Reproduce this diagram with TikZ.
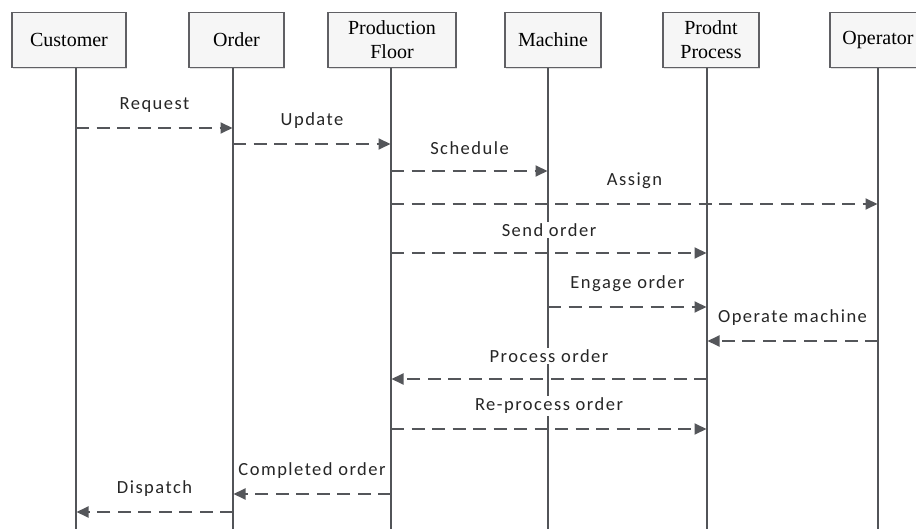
\documentclass[tikz,border=0pt]{standalone}
\usepackage{fontspec}
\setmainfont{Liberation Serif}
\newfontfamily\msgfont[LetterSpace=8]{Carlito}
\usetikzlibrary{arrows.meta,shadows}
\definecolor{lifec}{RGB}{82,84,88}
\definecolor{msgc}{RGB}{84,86,90}
\definecolor{boxc}{RGB}{96,96,100}
\definecolor{boxfill}{RGB}{246,246,246}
\begin{document}
\begin{tikzpicture}[x=1pt,y=-1pt,
  hbox/.style={draw=boxc, line width=1.1pt, fill=boxfill, minimum height=55pt,
    align=center, font=\fontsize{20}{24}\selectfont, inner sep=2pt,
    drop shadow={opacity=0.25, shadow xshift=1.2pt, shadow yshift=-1.2pt}},
  life/.style={draw=lifec, line width=2.5pt},
  msg/.style={draw=msgc, line width=1.9pt, dash pattern=on 13pt off 7.5pt,
    -{Triangle[length=12pt,width=11pt]}, shorten >=0.5pt},
  lbl/.style={fill=white, inner sep=2pt, font=\msgfont\fontsize{18.5}{21}\selectfont,
    text=black!85, midway, yshift=23pt}]
\useasboundingbox (0,0) rectangle (916,529);
\clip (0,0) rectangle (916,529);
% lifeline bottom ends
\coordinate (lc) at (76,529);
\coordinate (lo) at (233,529);
\coordinate (lpf) at (391,529);
\coordinate (lm) at (548,529);
\coordinate (lpp) at (707,529);
\coordinate (lop) at (878,529);
% header boxes
\node[hbox, minimum width=114pt] (cust) at (69,40) {Customer};
\node[hbox, minimum width=95pt] (ord) at (236.5,40) {Order};
\node[hbox, minimum width=128pt] (pf) at (392,40) {Production\\Floor};
\node[hbox, minimum width=96pt] (mach) at (553,40) {Machine};
\node[hbox, minimum width=96pt] (pp) at (711,40) {Prodnt\\Process};
\node[hbox, minimum width=96pt] (oper) at (878,40) {Operator};
% lifelines
\draw[life] (cust.south -| lc) -- (lc);
\draw[life] (ord.south -| lo) -- (lo);
\draw[life] (pf.south -| lpf) -- (lpf);
\draw[life] (mach.south -| lm) -- (lm);
\draw[life] (pp.south -| lpp) -- (lpp);
\draw[life] (oper.south -| lop) -- (lop);
% messages
\draw[msg] (lc |- 0,128) -- node[lbl]{Request} (lo |- 0,128);
\draw[msg] (lo |- 0,144) -- node[lbl]{Update} (lpf |- 0,144);
\draw[msg] (lpf |- 0,171) -- node[lbl]{Schedule} (lm |- 0,171);
\draw[msg] (lpf |- 0,204) -- node[lbl]{Assign} (lop |- 0,204);
\draw[msg] (lpf |- 0,253) -- node[lbl]{Send order} (lpp |- 0,253);
\draw[msg] (lm |- 0,307) -- node[lbl]{Engage order} (lpp |- 0,307);
\draw[msg] (lop |- 0,341) -- node[lbl]{Operate machine} (lpp |- 0,341);
\draw[msg] (lpp |- 0,379) -- node[lbl]{Process order} (lpf |- 0,379);
\draw[msg] (lpf |- 0,429) -- node[lbl]{Re-process order} (lpp |- 0,429);
\draw[msg] (lpf |- 0,494) -- node[lbl]{Completed order} (lo |- 0,494);
\draw[msg] (lo |- 0,512) -- node[lbl]{Dispatch} (lc |- 0,512);
\end{tikzpicture}
\end{document}
